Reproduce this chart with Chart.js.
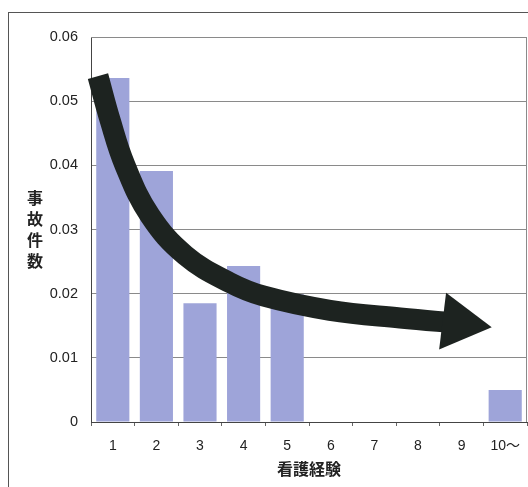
<!DOCTYPE html>
<html>
<head>
<meta charset="utf-8">
<script src="https://cdn.jsdelivr.net/npm/chart.js@4.4.1/dist/chart.umd.min.js"></script>
<style>
  html, body { margin: 0; padding: 0; background: #fff; }
  #wrap { position: relative; width: 528px; height: 487px; overflow: hidden; }
  #frame {
    position: absolute; left: 8px; top: 12px; width: 600px; height: 600px;
    border-left: 1px solid #555; border-top: 1px solid #555;
  }
  canvas { position: absolute; left: 0; top: 0; }
</style>
</head>
<body>
<div id="wrap">
  <div id="frame"></div>
  <canvas id="chart" width="528" height="487"></canvas>
</div>
<script>
const labels = ['1', '2', '3', '4', '5', '6', '7', '8', '9', '10～'];
const accidents = [0.0536, 0.0391, 0.0185, 0.0243, 0.0199, 0, 0, 0, 0, 0.0050];
const yTickLabels = ['0', '0.01', '0.02', '0.03', '0.04', '0.05', '0.06'];

// trend arrow path, in category index / value units
const arrowX = [-0.34, -0.06, 0.28, 0.85, 1.66, 2.69, 3.47, 4.98, 6.59, 7.94];
const arrowY = [0.0539, 0.0470, 0.0400, 0.0322, 0.0260, 0.0217, 0.0196, 0.0174, 0.0162, 0.0154];

const yTitle = ['事', '故', '件', '数'];
const xTitle = '看護経験';

const FONT = '"Liberation Sans", Arial, "Noto Sans CJK JP", sans-serif';

const plotFrame = {
  id: 'plotFrame',
  beforeDatasetsDraw(chart) {
    const a = chart.chartArea;
    const ctx = chart.ctx;
    ctx.save();
    ctx.strokeStyle = '#8a8a8a';
    ctx.lineWidth = 1;
    ctx.beginPath();
    ctx.moveTo(a.left, a.top + 0.5);
    ctx.lineTo(a.right - 0.5, a.top + 0.5);
    ctx.lineTo(a.right - 0.5, a.bottom);
    ctx.stroke();
    ctx.restore();
  },
  afterDraw(chart) {
    const a = chart.chartArea;
    const ctx = chart.ctx;
    const mid = (a.top + a.bottom) / 2;
    ctx.save();
    ctx.fillStyle = '#222';
    ctx.font = 'bold 16px "Noto Sans CJK JP", sans-serif';
    ctx.textAlign = 'center';
    ctx.textBaseline = 'middle';
    yTitle.forEach((ch, i) => {
      ctx.fillText(ch, 35, mid + (i - (yTitle.length - 1) / 2) * 21);
    });
    ctx.restore();
  }
};

const arrowData = arrowX.map((x, i) => ({ x: x, y: arrowY[i] }));
const headRadius = arrowX.map((x, i) => i === arrowX.length - 1 ? 33 : 0);

new Chart(document.getElementById('chart'), {
  type: 'bar',
  data: {
    labels: labels,
    datasets: [
      {
        type: 'line',
        data: arrowData,
        xAxisID: 'x2',
        yAxisID: 'y',
        borderColor: '#1d2320',
        borderWidth: 21,
        tension: 0.4,
        fill: false,
        clip: false,
        pointRadius: headRadius,
        pointStyle: 'triangle',
        pointRotation: 97,
        pointBackgroundColor: '#1d2320',
        pointBorderWidth: 0,
        order: 0
      },
      {
        data: accidents,
        backgroundColor: '#9ea4d9',
        grouped: false,
        categoryPercentage: 1,
        barPercentage: 0.76,
        order: 1
      }
    ]
  },
  options: {
    responsive: false,
    animation: false,
    events: [],
    layout: { autoPadding: false, padding: { left: 0, top: 37, right: 1, bottom: 0 } },
    plugins: {
      legend: { display: false },
      tooltip: { enabled: false }
    },
    scales: {
      x: {
        afterFit(s) {
          s.height = 65;
          s.paddingLeft = 0;
          s.paddingRight = 0;
        },
        grid: { drawOnChartArea: false, tickLength: 4, color: '#666' },
        border: { color: '#444' },
        ticks: { color: '#222', padding: 12, font: { family: FONT, size: 14 } },
        title: {
          display: true,
          text: xTitle,
          color: '#222',
          padding: { top: 0, bottom: 8 },
          font: { family: '"Noto Sans CJK JP", sans-serif', size: 16, weight: 'bold' }
        }
      },
      x2: {
        type: 'linear',
        display: false,
        min: -0.5,
        max: 9.5,
        offset: false
      },
      y: {
        min: 0,
        max: 0.06,
        afterFit(s) { s.width = 91; },
        grid: { color: '#8a8a8a', drawTicks: false },
        border: { color: '#444' },
        ticks: {
          stepSize: 0.01,
          padding: 13,
          color: '#222',
          font: { family: FONT, size: 14.5 },
          callback: (v, i) => yTickLabels[i]
        }
      }
    }
  },
  plugins: [plotFrame]
});
</script>
</body>
</html>
